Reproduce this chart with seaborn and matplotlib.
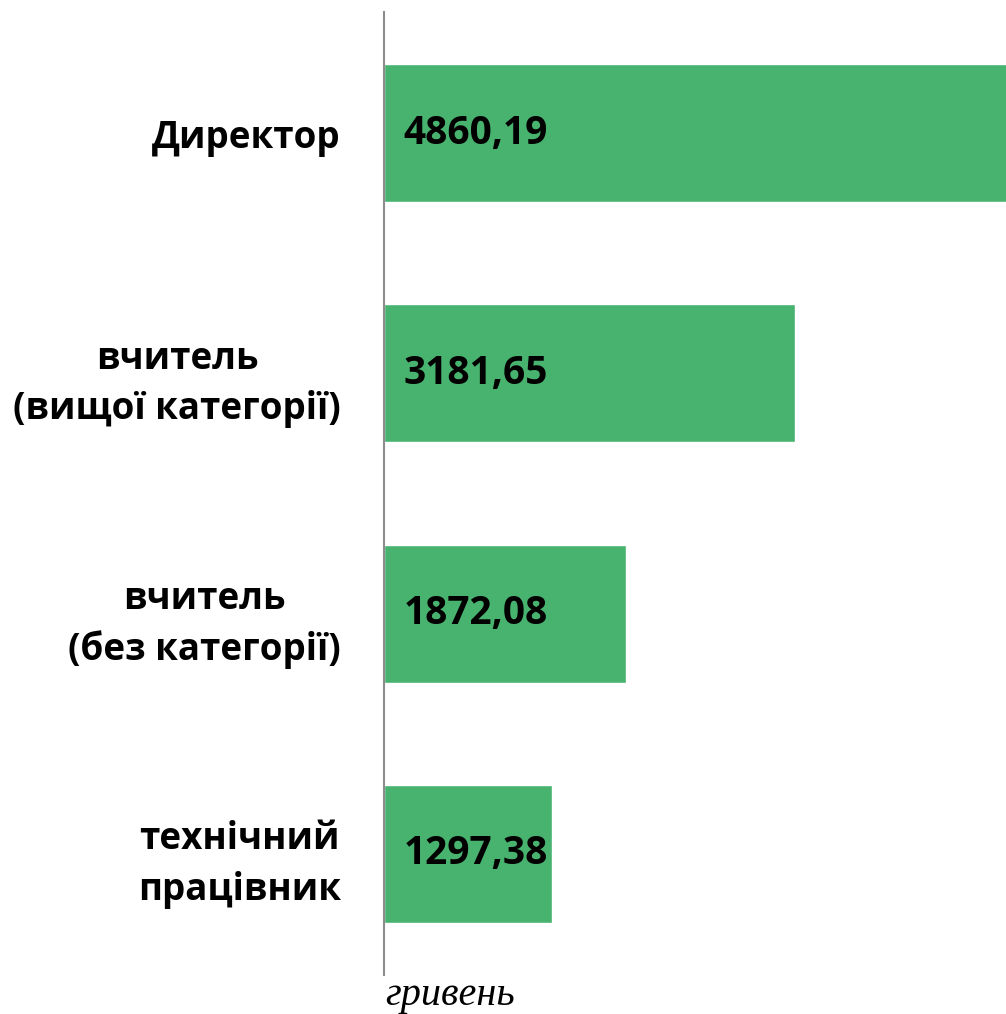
import matplotlib.pyplot as plt
import pandas as pd
import seaborn as sns

sns.set_style('white')
plt.rcParams['font.family'] = ['Open Sans', 'DejaVu Sans']

# дані
categories = ['Директор', 'вчитель\n(вищої категорії)', 'вчитель\n(без категорії)',
              'технічний\nпрацівник']
salaries = [4860.19, 3181.65, 1872.08, 1297.38]
value_labels = ['4860,19', '3181,65', '1872,08', '1297,38']
unit_label = 'гривень'

df = pd.DataFrame({'cat': categories, 'val': salaries})

fig = plt.figure(figsize=(10.06, 10.14), dpi=100)
ax = fig.add_axes([384 / 1006, 39 / 1014, 622 / 1006, 963 / 1014])

sns.barplot(data=df, x='val', y='cat', orient='h', color='#47b36f',
            saturation=1, width=0.575, ax=ax)

ax.set_xlim(0, 4814)
ax.set_ylim(3.504, -0.504)
ax.set_xlabel('')
ax.set_ylabel('')
ax.set_xticks([])
for s in ['top', 'right', 'bottom']:
    ax.spines[s].set_visible(False)
ax.spines['left'].set_color('#8c8c8c')
ax.spines['left'].set_linewidth(1.5)

ax.tick_params(axis='y', length=0, pad=31, labelcolor='black')
for t in ax.get_yticklabels():
    t.set_fontsize(26.5)
    t.set_fontweight('bold')
    t.set_multialignment('center')
    t.set_linespacing(1.42)

for i, lab in enumerate(value_labels):
    ax.annotate(lab, xy=(0, i), xytext=(14, 0), textcoords='offset points',
                ha='left', va='center', fontsize=28, fontweight='bold',
                color='black', clip_on=False)

fig.text(450 / 1006, 1 - 996 / 1014, unit_label, ha='center', va='center',
         fontsize=29, style='italic', color='black',
         family=['Liberation Serif', 'DejaVu Serif'])

fig.savefig('out.png', dpi=100)
